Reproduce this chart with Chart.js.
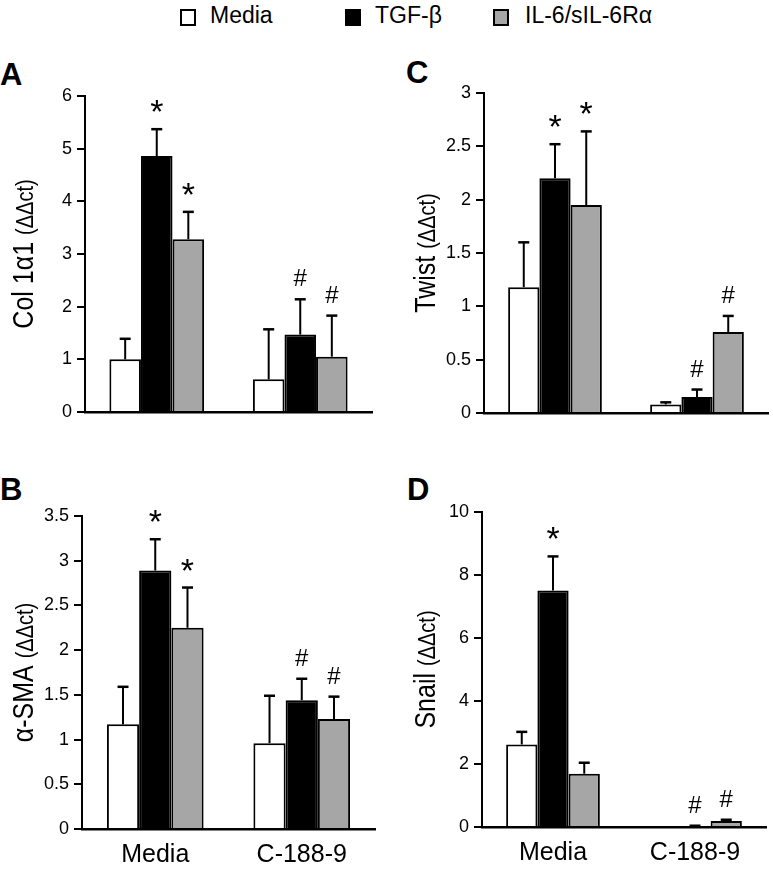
<!DOCTYPE html>
<html lang="en">
<head>
<meta charset="UTF-8">
<title>Col 1α1, α-SMA, Twist, Snail</title>
<script src="https://cdn.jsdelivr.net/npm/chart.js"></script>
<style>
    body {
        margin: 0;
        background: #fff;
        font-family: "Liberation Sans", Arial, sans-serif;
    }
    #fig {
        position: relative;
        width: 773px;
        height: 870px;
        overflow: hidden;
    }
    canvas {
        position: absolute;
    }
    .letter {
        position: absolute;
        font-weight: bold;
        font-size: 31px;
        line-height: 1;
    }
    .key {
        position: absolute;
        top: 9px;
        width: 12px;
        height: 13px;
        border: 2px solid #000;
    }
    .keytext {
        position: absolute;
        top: 4px;
        font-size: 23px;
        line-height: 1;
    }
</style>
</head>
<body>
<div id="fig">
    <div class="key" style="left:180px;background:#fff"></div>
    <div class="keytext" style="left:210px">Media</div>
    <div class="key" style="left:345px;background:#000"></div>
    <div class="keytext" style="left:375px">TGF-β</div>
    <div class="key" style="left:493px;background:#a6a6a6"></div>
    <div class="keytext" style="left:525px">IL-6/sIL-6Rα</div>

    <div class="letter" style="left:0px;top:59px">A</div>
    <div class="letter" style="left:406px;top:57px">C</div>
    <div class="letter" style="left:0px;top:474px">B</div>
    <div class="letter" style="left:407px;top:474px">D</div>

    <canvas id="chartA" width="390" height="370" style="left:0px;top:60px"></canvas>
    <canvas id="chartC" width="383" height="370" style="left:390px;top:60px"></canvas>
    <canvas id="chartB" width="390" height="420" style="left:0px;top:450px"></canvas>
    <canvas id="chartD" width="383" height="420" style="left:390px;top:450px"></canvas>
</div>

<script>
    // groups on the x axis and the three treatments (one dataset each)
    const groups = ['Media', 'C-188-9'];
    const treatments = ['Media', 'TGF-β', 'IL-6/sIL-6Rα'];

    // A - Col 1a1: rows = treatments, cols = groups
    const colMean = [[1.0, 0.62], [4.86, 1.47], [3.28, 1.05]];
    const colErr = [[1.39, 1.57], [5.37, 2.14], [3.8, 1.83]];
    const colMarks = [['', ''], ['*', '#'], ['*', '#']];
    const colTicks = [0, 1, 2, 3, 4, 5, 6];

    // C - Twist
    const twistMean = [[1.18, 0.08], [2.2, 0.15], [1.95, 0.76]];
    const twistErr = [[1.6, 0.1], [2.52, 0.22], [2.64, 0.91]];
    const twistMarks = [['', ''], ['*', '#'], ['*', '#']];
    const twistTicks = [0, 0.5, 1, 1.5, 2, 2.5, 3];

    // B - alpha-SMA
    const smaMean = [[1.17, 0.96], [2.89, 1.44], [2.25, 1.23]];
    const smaErr = [[1.59, 1.49], [3.24, 1.68], [2.7, 1.48]];
    const smaMarks = [['', ''], ['*', '#'], ['*', '#']];
    const smaTicks = [0, 0.5, 1, 1.5, 2, 2.5, 3, 3.5];

    // D - Snail
    const snailMean = [[2.62, 0], [7.51, 0.03], [1.69, 0.19]];
    const snailErr = [[3.02, 0], [8.59, 0.04], [2.04, 0.23]];
    const snailMarks = [['', ''], ['*', '#'], ['', '#']];
    const snailTicks = [0, 2, 4, 6, 8, 10];

    const fills = ['#ffffff', '#000000', '#a6a6a6'];
    const FONT = '"Liberation Sans", Arial, sans-serif';

    // upper error bars + significance marks
    const errorBars = {
        id: 'errorBars',
        afterDatasetsDraw(chart, args, opts) {
            const ctx = chart.ctx;
            const y = chart.scales.y;
            ctx.save();
            ctx.strokeStyle = '#000';
            ctx.fillStyle = '#000';
            ctx.textAlign = 'center';
            ctx.textBaseline = 'alphabetic';
            chart.data.datasets.forEach((ds, i) => {
                const meta = chart.getDatasetMeta(i);
                meta.data.forEach((bar, j) => {
                    const top = y.getPixelForValue(opts.err[i][j]);
                    if (opts.err[i][j] > ds.data[j]) {
                        ctx.lineWidth = 2;
                        ctx.beginPath();
                        ctx.moveTo(bar.x, bar.y);
                        ctx.lineTo(bar.x, top);
                        ctx.stroke();
                        ctx.lineWidth = 2.5;
                        ctx.beginPath();
                        ctx.moveTo(bar.x - 5.5, top);
                        ctx.lineTo(bar.x + 5.5, top);
                        ctx.stroke();
                    }
                    const m = opts.marks[i][j];
                    if (m === '*') {
                        ctx.font = '34px ' + FONT;
                        ctx.fillText(m, bar.x, top - 6);
                    } else if (m === '#') {
                        ctx.font = '24px ' + FONT;
                        ctx.fillText(m, bar.x, top - 13);
                    }
                });
            });
            ctx.restore();
        }
    };

    // rotated y title, unit part in a smaller size (a bit stretched like the original)
    const yTitle = {
        id: 'yTitle',
        afterDraw(chart, args, opts) {
            const ctx = chart.ctx;
            const area = chart.chartArea;
            ctx.save();
            ctx.translate(opts.x, (area.top + area.bottom) / 2);
            ctx.rotate(-Math.PI / 2);
            ctx.scale(1, 1.15);
            ctx.fillStyle = '#000';
            ctx.textBaseline = 'alphabetic';
            ctx.textAlign = 'left';
            ctx.font = '25px ' + FONT;
            const w1 = ctx.measureText(opts.main + ' ').width;
            ctx.font = '20px ' + FONT;
            const w2 = ctx.measureText(opts.unit).width;
            let x0 = -(w1 + w2) / 2;
            ctx.font = '25px ' + FONT;
            ctx.fillText(opts.main + ' ', x0, 0);
            ctx.font = '20px ' + FONT;
            ctx.fillText(opts.unit, x0 + w1, 0);
            ctx.restore();
        }
    };

    function makeChart(id, p) {
        const datasets = treatments.map((t, i) => ({
            label: t,
            data: p.mean[i],
            backgroundColor: fills[i],
            borderColor: '#000',
            borderWidth: 2,
            categoryPercentage: 0.66,
            barPercentage: 1
        }));
        const ticks = p.ticks;
        return new Chart(document.getElementById(id), {
            type: 'bar',
            data: { labels: groups, datasets: datasets },
            options: {
                responsive: false,
                animation: false,
                layout: { padding: { left: 0, top: p.top, right: p.right, bottom: 0 } },
                plugins: {
                    legend: { display: false },
                    tooltip: { enabled: false },
                    errorBars: { err: p.err, marks: p.marks },
                    yTitle: { main: p.title, unit: '(ΔΔct)', x: p.titleX }
                },
                scales: {
                    x: {
                        grid: { display: false, drawTicks: false },
                        border: { color: '#000', width: 2.5 },
                        ticks: {
                            display: p.showX,
                            color: '#000',
                            padding: 11,
                            font: { family: FONT, size: 25 }
                        },
                        afterFit(scale) { scale.height = p.bottom; }
                    },
                    y: {
                        min: ticks[0],
                        max: ticks[ticks.length - 1],
                        ticks: {
                            stepSize: ticks[1] - ticks[0],
                            color: '#000',
                            padding: 5,
                            font: { family: FONT, size: 18 },
                            callback: (v) => String(v)
                        },
                        grid: {
                            drawOnChartArea: false,
                            drawTicks: true,
                            tickLength: 8,
                            color: '#000',
                            lineWidth: 2
                        },
                        border: { color: '#000', width: 2 },
                        afterFit(scale) { scale.width = p.left; }
                    }
                }
            },
            plugins: [errorBars, yTitle]
        });
    }

    makeChart('chartA', {
        mean: colMean, err: colErr, marks: colMarks, ticks: colTicks,
        title: 'Col 1α1', titleX: 33,
        left: 85, top: 36, right: 18, bottom: 18, showX: false
    });
    makeChart('chartC', {
        mean: twistMean, err: twistErr, marks: twistMarks, ticks: twistTicks,
        title: 'Twist', titleX: 45,
        left: 94, top: 33, right: 5, bottom: 17, showX: false
    });
    makeChart('chartB', {
        mean: smaMean, err: smaErr, marks: smaMarks, ticks: smaTicks,
        title: 'α-SMA', titleX: 33,
        left: 82, top: 66, right: 15, bottom: 41, showX: true
    });
    makeChart('chartD', {
        mean: snailMean, err: snailErr, marks: snailMarks, ticks: snailTicks,
        title: 'Snail', titleX: 45,
        left: 92, top: 62, right: 7, bottom: 43, showX: true
    });
</script>
</body>
</html>
